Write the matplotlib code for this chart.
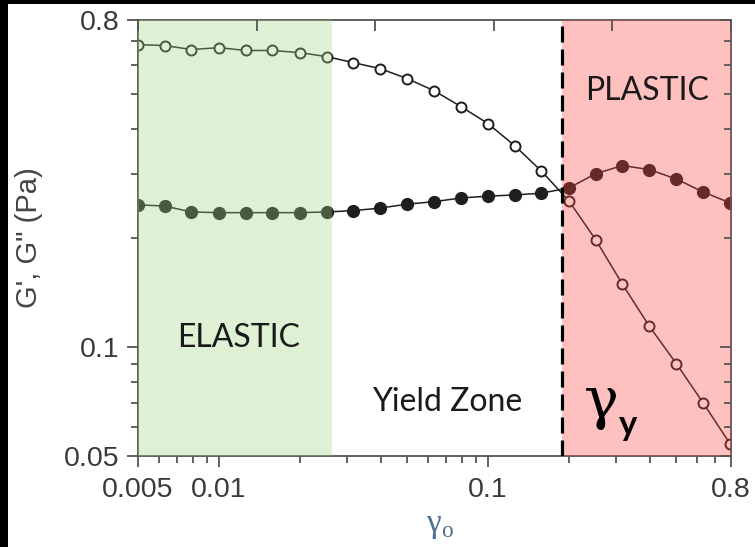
import matplotlib.pyplot as plt
from matplotlib.patches import Rectangle
from matplotlib.ticker import FixedLocator, FixedFormatter, NullFormatter

# strain amplitude (log spaced, 10 points per decade)
strain = [0.005, 0.0063, 0.0079, 0.01, 0.0126, 0.0158, 0.02, 0.0251, 0.0316, 0.0398,
          0.0501, 0.0631, 0.0794, 0.1, 0.126, 0.158, 0.2, 0.251, 0.316, 0.398,
          0.501, 0.631, 0.794]
# storage modulus G' (open) and loss modulus G'' (filled)
g_storage = [0.684, 0.680, 0.663, 0.671, 0.659, 0.659, 0.650, 0.634, 0.610, 0.587,
             0.551, 0.510, 0.461, 0.414, 0.359, 0.306, 0.253, 0.198, 0.149, 0.114,
             0.090, 0.070, 0.054]
g_loss = [0.247, 0.245, 0.236, 0.235, 0.235, 0.235, 0.235, 0.236, 0.238, 0.242,
          0.248, 0.252, 0.258, 0.261, 0.263, 0.266, 0.275, 0.301, 0.317, 0.309,
          0.291, 0.268, 0.250]

elastic_end = 0.0263
yield_strain = 0.188

xticks = [0.005, 0.01, 0.1, 0.8]
xtick_labels = ["0.005", "0.01", "0.1", "0.8"]
xminor = [0.006, 0.007, 0.008, 0.009, 0.02, 0.03, 0.04, 0.05, 0.06, 0.07, 0.08, 0.09,
          0.2, 0.3, 0.4, 0.5, 0.6, 0.7]
yticks = [0.05, 0.1, 0.8]
ytick_labels = ["0.05", "0.1", "0.8"]
yminor = [0.06, 0.07, 0.08, 0.09, 0.2, 0.3, 0.4, 0.5, 0.6, 0.7]

spine_col = "#555555"

fig = plt.figure(figsize=(7.55, 5.47), dpi=100, facecolor="black")
# white sheet, black frame left and top
fig.patches.append(Rectangle((8 / 755, 0), 1, 1 - 4 / 547, transform=fig.transFigure,
                             facecolor="white", edgecolor="none", zorder=-10))
ax = fig.add_axes([138 / 755, 91 / 547, 593 / 755, 436 / 547])

ax.plot(strain, g_storage, "-o", color="#1e1e1e", lw=1.1, ms=7.2, mfc="white",
        mec="#1e1e1e", mew=1.4, zorder=2)
ax.plot(strain, g_loss, "-o", color="#1e1e1e", lw=1.1, ms=8.5, mfc="#1e1e1e",
        mec="#1e1e1e", zorder=2)

# translucent overlays tint the data underneath
ax.axvspan(0.005, elastic_end, color=(0.62, 0.84, 0.50), alpha=0.333, lw=0, zorder=3)
ax.axvspan(yield_strain, 0.8, color=(1.0, 0.26, 0.26), alpha=0.333, lw=0, zorder=3)
ax.axvline(yield_strain, color="black", lw=2.3, dashes=(5, 2.2), zorder=4)

ax.set_xscale("log")
ax.set_yscale("log")
ax.set_xlim(0.005, 0.8)
ax.set_ylim(0.05, 0.8)

ax.xaxis.set_major_locator(FixedLocator(xticks))
ax.xaxis.set_major_formatter(FixedFormatter(xtick_labels))
ax.xaxis.set_minor_locator(FixedLocator(xminor))
ax.xaxis.set_minor_formatter(NullFormatter())
ax.yaxis.set_major_locator(FixedLocator(yticks))
ax.yaxis.set_major_formatter(FixedFormatter(ytick_labels))
ax.yaxis.set_minor_locator(FixedLocator(yminor))
ax.yaxis.set_minor_formatter(NullFormatter())

for s in ax.spines.values():
    s.set_color(spine_col)
    s.set_linewidth(1.3)

# bottom/left ticks point out
ax.tick_params(which="both", direction="out", color=spine_col, width=1.3,
               labelcolor="#3a3a3a", labelsize=20.5, top=False, right=False)
ax.tick_params(which="major", length=8)
ax.tick_params(which="minor", length=5)
ax.tick_params(axis="x", which="major", pad=7)
ax.tick_params(axis="y", which="major", pad=5)
for lab in ax.get_xticklabels() + ax.get_yticklabels():
    lab.set_fontfamily("Liberation Sans")

# top/right ticks point in (twin axes, no labels)
tx = ax.twiny()
tx.tick_params(which="both", direction="in", color=spine_col, width=1.3,
               labeltop=False, labelbottom=False)
tx.tick_params(which="major", length=8)
tx.tick_params(which="minor", length=5)
ty = ax.twinx()
ty.set_yscale("log")
ty.set_ylim(0.05, 0.8)
ty.yaxis.set_major_locator(FixedLocator(yticks))
ty.yaxis.set_minor_locator(FixedLocator(yminor))
ty.tick_params(which="both", direction="in", color=spine_col, width=1.3,
               labelright=False, labelleft=False)
ty.tick_params(which="major", length=8)
ty.tick_params(which="minor", length=5)
for t in (tx, ty):
    for s in t.spines.values():
        s.set_visible(False)

ax.set_ylabel("G', G\" (Pa)", fontsize=21, color="#444444", family="Liberation Sans")
ax.yaxis.set_label_coords(-0.16, 0.5)
ax.set_xlabel("γ$_\\mathregular{o}$", fontsize=24, color="#4f6f93", family="Liberation Serif")
ax.xaxis.set_label_coords(0.51, -0.125)

ax.text(0.169, 0.27, "ELASTIC", transform=ax.transAxes, ha="center", va="center",
        fontsize=23, family="Lato", color="#1a1a1a", zorder=6)
ax.text(0.858, 0.838, "PLASTIC", transform=ax.transAxes, ha="center", va="center",
        fontsize=23, family="Lato", color="#1a1a1a", zorder=6)
ax.text(0.521, 0.124, "Yield Zone", transform=ax.transAxes, ha="center", va="center",
        fontsize=23, family="Lato", color="#1a1a1a", zorder=6)
ax.text(0.782, 0.125, "γ", transform=ax.transAxes, ha="center", va="center",
        fontsize=42, family="DejaVu Serif", color="black", zorder=6)
ax.text(0.826, 0.07, "y", transform=ax.transAxes, ha="center", va="center",
        fontsize=25, family="Lato", weight="bold", color="black", zorder=6)

fig.savefig("out.png", dpi=100, facecolor=fig.get_facecolor())
